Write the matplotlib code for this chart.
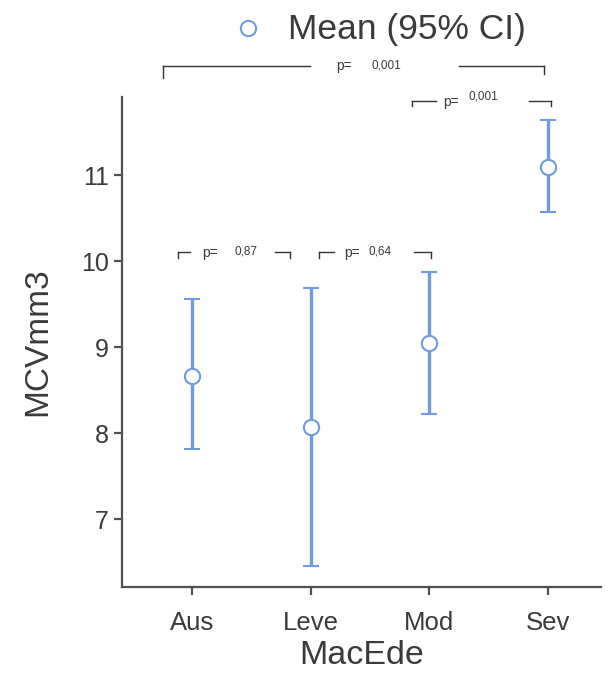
import matplotlib
matplotlib.use("Agg")
import matplotlib.pyplot as plt
from matplotlib.lines import Line2D

plt.rcParams["font.family"] = ["Liberation Sans", "DejaVu Sans"]

categories = ["Aus", "Leve", "Mod", "Sev"]
means = [8.67, 8.07, 9.05, 11.10]
ci_low = [7.81, 6.45, 8.22, 10.57]
ci_high = [9.56, 9.69, 9.88, 11.64]

blue = "#6f9be0"
txt = "#3a3a3a"
spine = "#505050"

fig = plt.figure(figsize=(6.11, 6.91), dpi=100)
ax = fig.add_axes([0.1997, 0.1505, 0.7839, 0.7091])
x = list(range(len(categories)))
yerr = [[m - l for m, l in zip(means, ci_low)], [h - m for m, h in zip(means, ci_high)]]
ax.errorbar(x, means, yerr=yerr, fmt="o", color=blue, ecolor=blue, elinewidth=2.4,
            capsize=6, capthick=2.4, markersize=11, markerfacecolor="white",
            markeredgecolor=blue, markeredgewidth=1.5, zorder=3)

ax.set_xlim(-0.59, 3.45)
ax.set_ylim(6.21, 11.91)
ax.set_xticks(x)
ax.set_xticklabels(categories)
ax.set_yticks([7, 8, 9, 10, 11])
for s in ["top", "right"]:
    ax.spines[s].set_visible(False)
for s in ["left", "bottom"]:
    ax.spines[s].set_color(spine)
    ax.spines[s].set_linewidth(1.6)
ax.tick_params(axis="both", colors=spine, labelcolor=txt, labelsize=18, length=6, width=1.6)
ax.tick_params(axis="x", labelsize=18.5, pad=11)
ax.set_xlabel("MacEde", fontsize=24.5, color=txt, labelpad=4)
ax.set_ylabel("MCVmm3", fontsize=24, color=txt, labelpad=20)

def px(v):
    return (v - 192) / 119.0

def py(v):
    return 7 + (519 - v) / 86.0

lk = dict(color="#333333", lw=1.0, clip_on=False)
# top bracket Aus-Sev
yt = py(66)
ax.plot([px(163), px(163)], [py(78), yt], **lk)
ax.plot([px(163), px(310)], [yt, yt], **lk)
ax.plot([px(460), px(545)], [yt, yt], **lk)
ax.plot([px(545), px(545)], [yt, py(74)], **lk)
ax.text(px(337), yt, "p=", fontsize=10, color=txt, va="center", ha="left")
ax.text(px(372), py(65), "0,001", fontsize=8.5, color=txt, va="center", ha="left")

# Mod-Sev bracket
yb = py(101)
ax.plot([px(413), px(413)], [py(106), yb], **lk)
ax.plot([px(413), px(437)], [yb, yb], **lk)
ax.plot([px(530), px(552)], [yb, yb], **lk)
ax.plot([px(552), px(552)], [yb, py(106)], **lk)
ax.text(px(444), py(102), "p=", fontsize=10, color=txt, va="center", ha="left")
ax.text(px(470), py(96), "0,001", fontsize=8.5, color=txt, va="center", ha="left")

# Aus-Leve bracket
y3 = py(252)
ax.plot([px(178), px(178)], [py(258), y3], **lk)
ax.plot([px(178), px(190)], [y3, y3], **lk)
ax.plot([px(275), px(290)], [y3, y3], **lk)
ax.plot([px(290), px(290)], [y3, py(258)], **lk)
ax.text(px(202), py(253), "p=", fontsize=10, color=txt, va="center", ha="left")
ax.text(px(235), py(251), "0,87", fontsize=8.5, color=txt, va="center", ha="left")

# Leve-Mod bracket
y4 = py(252)
ax.plot([px(320), px(320)], [py(258), y4], **lk)
ax.plot([px(320), px(335)], [y4, y4], **lk)
ax.plot([px(415), px(432)], [y4, y4], **lk)
ax.plot([px(432), px(432)], [y4, py(258)], **lk)
ax.text(px(345), py(253), "p=", fontsize=10, color=txt, va="center", ha="left")
ax.text(px(369), py(251), "0,64", fontsize=8.5, color=txt, va="center", ha="left")

# legend
fig.add_artist(Line2D([248 / 611], [1 - 28 / 691], transform=fig.transFigure,
                      marker="o", linestyle="none", markersize=11,
                      markerfacecolor="white", markeredgecolor=blue, markeredgewidth=1.5))
fig.text(288 / 611, 1 - 30 / 691, "Mean (95% CI)", fontsize=25.5, color=txt,
         ha="left", va="center")

fig.savefig("out.png", dpi=100)
